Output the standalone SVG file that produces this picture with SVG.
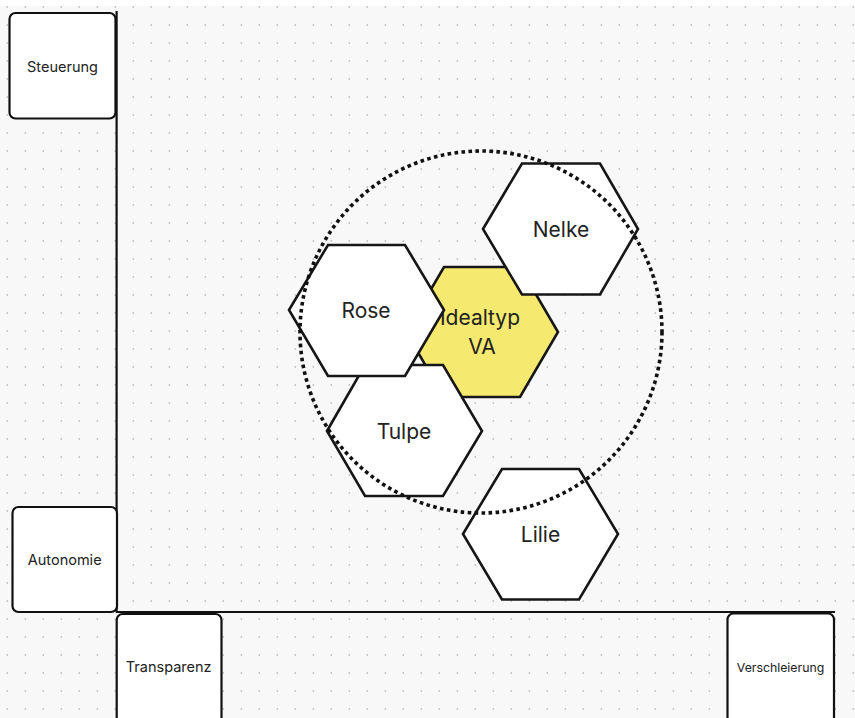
<svg xmlns="http://www.w3.org/2000/svg" width="855" height="718" viewBox="0 0 855 718">
  <style>
    .box { fill: #ffffff; stroke: #111111; stroke-width: 2.2; }
    .hex { fill: #ffffff; stroke: #161616; stroke-width: 2.6; stroke-linejoin: miter; }
    .hex.ideal { fill: #f6e970; }
    .axis { stroke: #111111; stroke-width: 2.2; fill: none; }
    .lbl { font-family: Inter, "Liberation Sans", sans-serif; fill: #222222; text-anchor: middle; }
    .small { font-size: 14.5px; }
    .fit { font-size: 12.3px; }
    .big { font-size: 21px; }
    .ring { fill: none; stroke: #111111; stroke-width: 3.6; stroke-dasharray: 3.6 3.4; }
  </style>
  <defs>
    <pattern id="dots" x="0" y="0" width="18" height="18" patternUnits="userSpaceOnUse">
      <circle cx="7.3" cy="7" r="0.9" fill="#c2c2c2"/>
    </pattern>
  </defs>

  <!-- canvas -->
  <rect x="0" y="0" width="855" height="718" fill="#ffffff"/>
  <rect x="0" y="6" width="855" height="712" fill="#f8f8f8"/>
  <rect x="0" y="6" width="855" height="712" fill="url(#dots)"/>

  <!-- axes -->
  <g id="connectors">
    <line class="axis" x1="116.6" y1="11" x2="116.6" y2="612.5"/>
    <line class="axis" x1="116" y1="612" x2="835" y2="612"/>
  </g>

  <!-- axis end labels -->
  <g id="steuerung">
    <rect class="box" x="9.5" y="13" width="106" height="105.5" rx="6"/>
    <text class="lbl small" x="62.5" y="72">Steuerung</text>
  </g>
  <g id="autonomie">
    <rect class="box" x="12.5" y="507" width="104.5" height="105" rx="6"/>
    <text class="lbl small" x="64.7" y="564.5">Autonomie</text>
  </g>
  <g id="transparenz">
    <rect class="box" x="116.7" y="614" width="104.8" height="112" rx="6"/>
    <text class="lbl small" x="168.7" y="672">Transparenz</text>
  </g>
  <g id="verschleierung">
    <rect class="box" x="727.5" y="613.5" width="106.5" height="112" rx="6"/>
    <text class="lbl fit" x="780.5" y="671.5">Verschleierung</text>
  </g>

  <!-- hexagons -->
  <g id="idealtyp">
    <polygon class="hex ideal" points="406,332 444,267 520,267 558,332 520,397 444,397"/>
    <text class="lbl big" x="480" y="325">Idealtyp</text>
    <text class="lbl big" x="482" y="354">VA</text>
  </g>
  <g id="tulpe">
    <polygon class="hex" points="327,431 365,365 443,365 482,431 443,496 365,496"/>
    <text class="lbl big" x="404" y="438.5">Tulpe</text>
  </g>
  <g id="rose">
    <polygon class="hex" points="289,310 328,245 405,245 444,310 405,376 328,376"/>
    <text class="lbl big" x="366" y="318">Rose</text>
  </g>
  <g id="nelke">
    <polygon class="hex" points="483,229 522,163.5 600,163.5 638,229 600,294.5 522,294.5"/>
    <text class="lbl big" x="561" y="237">Nelke</text>
  </g>
  <g id="lilie">
    <polygon class="hex" points="463,534 502,469 579,469 618,534 579,599.5 502,599.5"/>
    <text class="lbl big" x="540.5" y="541.5">Lilie</text>
  </g>

  <!-- dotted grouping ring -->
  <g id="cluster">
    <circle class="ring" cx="481" cy="332" r="181"/>
  </g>
</svg>
